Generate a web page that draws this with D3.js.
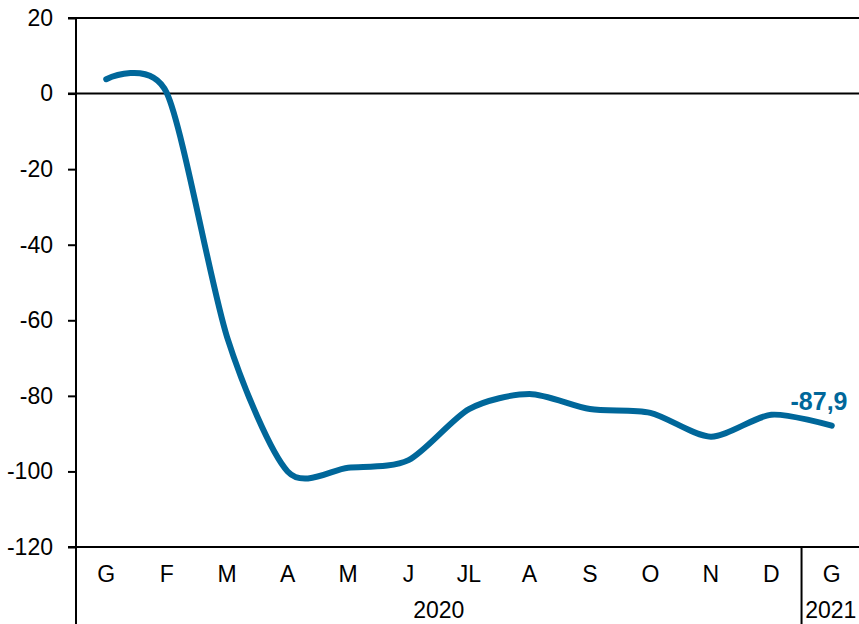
<!DOCTYPE html>
<html>
<head>
<meta charset="utf-8">
<script src="https://cdn.jsdelivr.net/npm/d3@7"></script>
<style>
  html, body { margin: 0; padding: 0; background: #fff; }
  svg { display: block; }
  text { font-family: "Liberation Sans", Arial, sans-serif; fill: #000; }
</style>
</head>
<body>
<svg id="chart" width="859" height="624"></svg>
<script>
const months = ["G", "F", "M", "A", "M", "J", "JL", "A", "S", "O", "N", "D", "G"];
const values = [3.8, 0.2, -64.5, -100.0, -99.0, -97.0, -83.5, -79.5, -83.5, -84.5, -90.8, -85.0, -87.9];
const yTicks = [20, 0, -20, -40, -60, -80, -100, -120];
const yearLabels = ["2020", "2021"];
const lastLabel = "-87,9";

const W = 859, H = 624;
const mLeft = 76, mRight = 862, mTop = 18, mBottom = 547;
const svg = d3.select("#chart");

const x = d3.scaleBand().domain(d3.range(months.length)).range([mLeft, mRight]).paddingInner(0).paddingOuter(0);
const y = d3.scaleLinear().domain([-120, 20]).range([mBottom, mTop]);
const cx = i => x(i) + x.bandwidth() / 2;

// horizontal lines at 20, 0 and -120
[20, 0, -120].forEach(v => {
  svg.append("line").attr("x1", mLeft - 8).attr("x2", W).attr("y1", y(v)).attr("y2", y(v))
    .attr("stroke", "#000").attr("stroke-width", 2);
});

// y axis ticks & labels
const yAxis = d3.axisLeft(y).tickValues(yTicks).tickSize(8).tickPadding(15).tickFormat(d => String(d));
const gy = svg.append("g").attr("transform", `translate(${mLeft},0)`).call(yAxis);
gy.select(".domain").remove();
gy.selectAll(".tick line").attr("stroke", "#000").attr("stroke-width", 2);
gy.selectAll(".tick text").attr("font-size", 23).attr("fill", "#000").style("font-family", "'Liberation Sans', Arial, sans-serif");

// left vertical axis line (extends through label area)
svg.append("line").attr("x1", mLeft).attr("x2", mLeft).attr("y1", mTop).attr("y2", H)
  .attr("stroke", "#000").attr("stroke-width", 2);

// separator between years
svg.append("line").attr("x1", x(12)).attr("x2", x(12)).attr("y1", mBottom).attr("y2", H)
  .attr("stroke", "#000").attr("stroke-width", 2);

// month labels
svg.selectAll("text.month").data(months).enter().append("text")
  .attr("class", "month")
  .attr("x", (d, i) => cx(i)).attr("y", 582)
  .attr("text-anchor", "middle").attr("font-size", 23)
  .text(d => d);

// year labels
svg.append("text").attr("x", (mLeft + x(12)) / 2).attr("y", 618)
  .attr("text-anchor", "middle").attr("font-size", 23).text(yearLabels[0]);
svg.append("text").attr("x", cx(12) - 1).attr("y", 618)
  .attr("text-anchor", "middle").attr("font-size", 23).text(yearLabels[1]);

// line
const line = d3.line().x((d, i) => cx(i)).y(d => y(d)).curve(d3.curveCardinal.tension(0.2));
svg.append("path").datum(values).attr("d", line)
  .attr("fill", "none").attr("stroke", "#00679A").attr("stroke-width", 6)
  .attr("stroke-linecap", "round").attr("stroke-linejoin", "round");

// last value label
svg.append("text").attr("x", 819).attr("y", 410)
  .attr("text-anchor", "middle").attr("font-size", 25).attr("font-weight", "bold")
  .style("fill", "#00679A").text(lastLabel);
</script>
</body>
</html>
